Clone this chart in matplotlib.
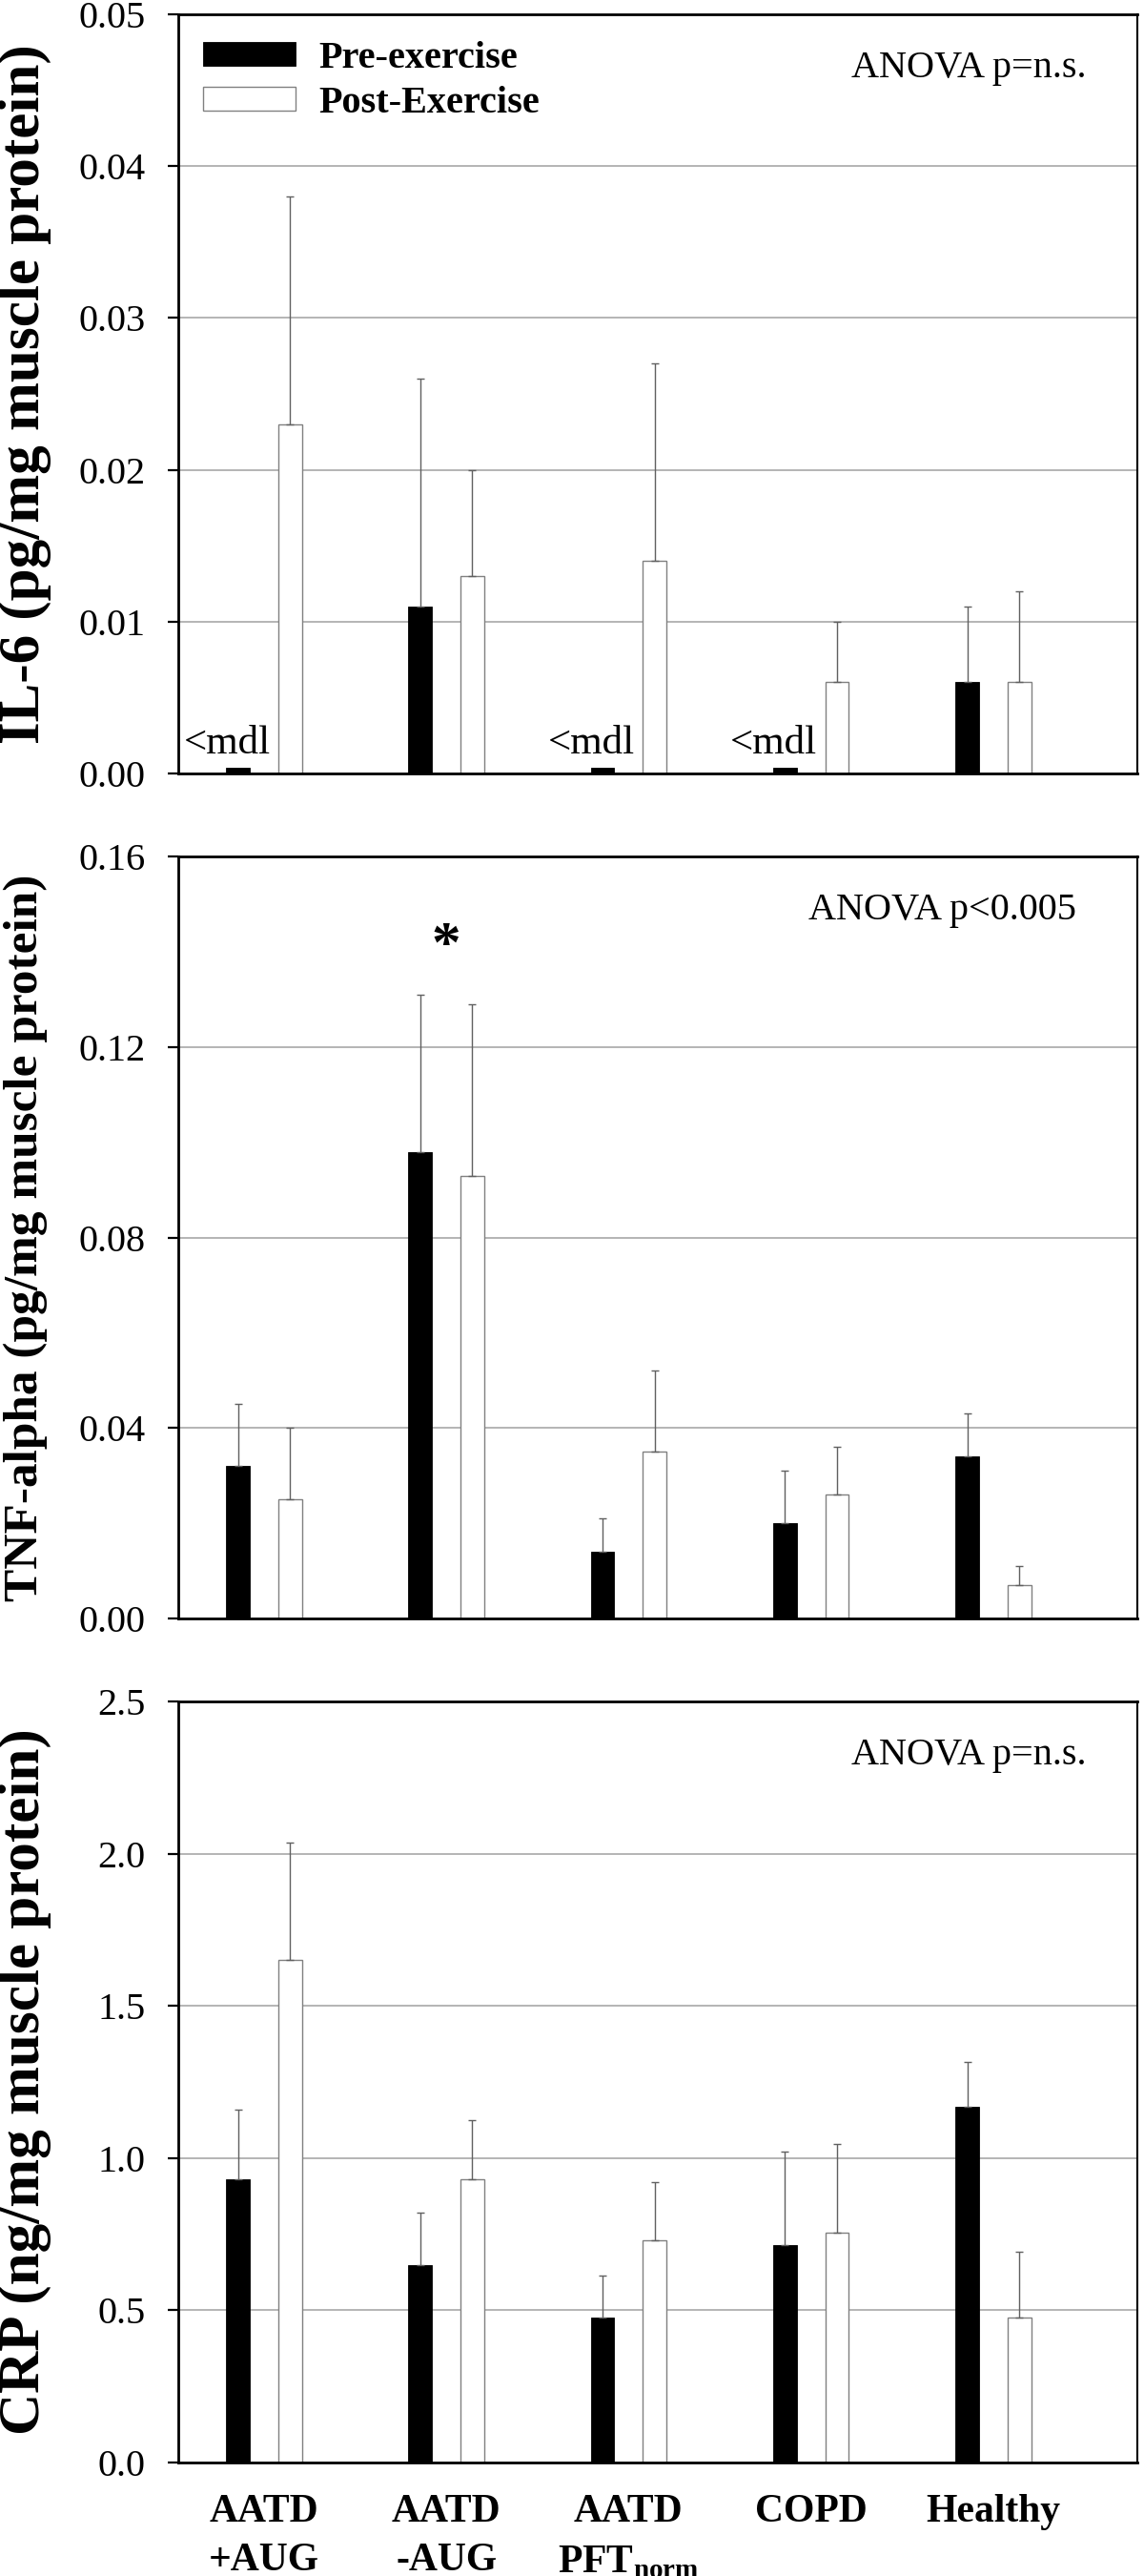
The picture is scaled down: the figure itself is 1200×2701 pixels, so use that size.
import matplotlib
matplotlib.use('Agg')
import matplotlib.pyplot as plt
import numpy as np

# Fonts: serif everywhere, bold for labels.
plt.rcParams['font.family'] = ['Liberation Serif', 'DejaVu Serif']
plt.rcParams['mathtext.fontset'] = 'custom'
plt.rcParams['mathtext.rm'] = 'Liberation Serif'
plt.rcParams['mathtext.bf'] = 'Liberation Serif:bold'

groups = ['AATD\n+AUG', 'AATD\n-AUG', 'AATD\nPFT$_{\\mathbf{norm}}$', 'COPD', 'Healthy']
series = ['Pre-exercise', 'Post-Exercise']

# IL-6 (pg/mg muscle protein); tiny pre values mark "<mdl"
il6_pre = [0.0004, 0.011, 0.0004, 0.0004, 0.006]
il6_pre_err = [0.0, 0.015, 0.0, 0.0, 0.005]
il6_post = [0.023, 0.013, 0.014, 0.006, 0.006]
il6_post_err = [0.015, 0.007, 0.013, 0.004, 0.006]
il6_mdl = [True, False, True, True, False]

# TNF-alpha (pg/mg muscle protein)
tnf_pre = [0.032, 0.098, 0.014, 0.020, 0.034]
tnf_pre_err = [0.013, 0.033, 0.007, 0.011, 0.009]
tnf_post = [0.025, 0.093, 0.035, 0.026, 0.007]
tnf_post_err = [0.015, 0.036, 0.017, 0.010, 0.004]

# CRP (ng/mg muscle protein)
crp_pre = [0.93, 0.65, 0.475, 0.715, 1.17]
crp_pre_err = [0.23, 0.17, 0.14, 0.305, 0.145]
crp_post = [1.65, 0.93, 0.73, 0.755, 0.476]
crp_post_err = [0.385, 0.195, 0.19, 0.29, 0.215]

W, H = 1200, 2701
fig = plt.figure(figsize=(W / 100, H / 100), dpi=100)

x = np.arange(len(groups))
off = 0.143
bw = 0.13
left, right = 187, 1193


def panel(top_px, bot_px, pre, pre_err, post, post_err, ymax, step, fmt,
          ylabel, ylabel_size, anova, anova_x):
    ax = fig.add_axes([left / W, 1 - bot_px / H, (right - left) / W, (bot_px - top_px) / H])
    ax.set_axisbelow(True)
    ax.bar(x - off, pre, bw, color='black', edgecolor='black', linewidth=0.6, label=series[0])
    ax.bar(x + off, post, bw, color='white', edgecolor='#808080', linewidth=1.0, label=series[1])
    for xs, ys, es in ((x - off, pre, pre_err), (x + off, post, post_err)):
        m = np.array(es) > 0
        ax.errorbar(xs[m], np.array(ys)[m], yerr=[np.zeros(m.sum()), np.array(es)[m]],
                    fmt='none', ecolor='#606060', elinewidth=1.0, capsize=3, capthick=1.0)
    ax.set_xlim(-0.47, 4.79)
    ax.set_ylim(0, ymax)
    ticks = np.arange(0, ymax + step / 2, step)
    ax.set_yticks(ticks)
    ax.set_yticklabels([fmt % t for t in ticks])
    ax.yaxis.grid(True, color='#b4b4b4', linewidth=1.4)
    ax.tick_params(axis='y', direction='out', length=8, width=1.6, pad=17, labelsize=29)
    ax.tick_params(axis='x', length=0)
    ax.set_xticks(x)
    ax.set_xticklabels([])
    for s in ('left', 'bottom', 'top'):
        ax.spines[s].set_linewidth(2.0)
    ax.spines['right'].set_linewidth(1.5)
    ax.text(anova_x, 0.917, anova, transform=ax.transAxes, fontsize=29,
            ha='left', va='baseline')
    fig.text(0.022, 1 - (top_px + bot_px) / 2 / H, ylabel, rotation=90,
             ha='center', va='center', fontsize=ylabel_size, fontweight='bold')
    return ax


ax1 = panel(15, 811, il6_pre, il6_pre_err, il6_post, il6_post_err, 0.05, 0.01, '%.2f',
            'IL-6 (pg/mg muscle protein)', 44, 'ANOVA p=n.s.', 0.702)
for i, flag in enumerate(il6_mdl):
    if flag:
        ax1.text(x[i] - off - 0.06, il6_pre[i] + 0.0009, '<mdl', ha='center', va='baseline', fontsize=31)
ax1.legend(loc='upper left', bbox_to_anchor=(0.026, 0.965), frameon=False,
           prop={'weight': 'bold', 'size': 29}, handlelength=2.4, handleheight=0.56,
           handletextpad=0.6, labelspacing=0.25, borderpad=0, borderaxespad=0)

ax2 = panel(898, 1697, tnf_pre, tnf_pre_err, tnf_post, tnf_post_err, 0.16, 0.04, '%.2f',
            'TNF-alpha (pg/mg muscle protein)', 37, 'ANOVA p<0.005', 0.657)
ax2.text(x[1], 0.138, '*', ha='center', va='baseline', fontsize=44, fontweight='bold')

ax3 = panel(1784, 2582, crp_pre, crp_pre_err, crp_post, crp_post_err, 2.5, 0.5, '%.1f',
            'CRP (ng/mg muscle protein)', 44, 'ANOVA p=n.s.', 0.702)
ax3.set_xticklabels(groups, fontsize=30, fontweight='bold', linespacing=1.45)
ax3.tick_params(axis='x', pad=24)

fig.savefig('out.png', dpi=100)
